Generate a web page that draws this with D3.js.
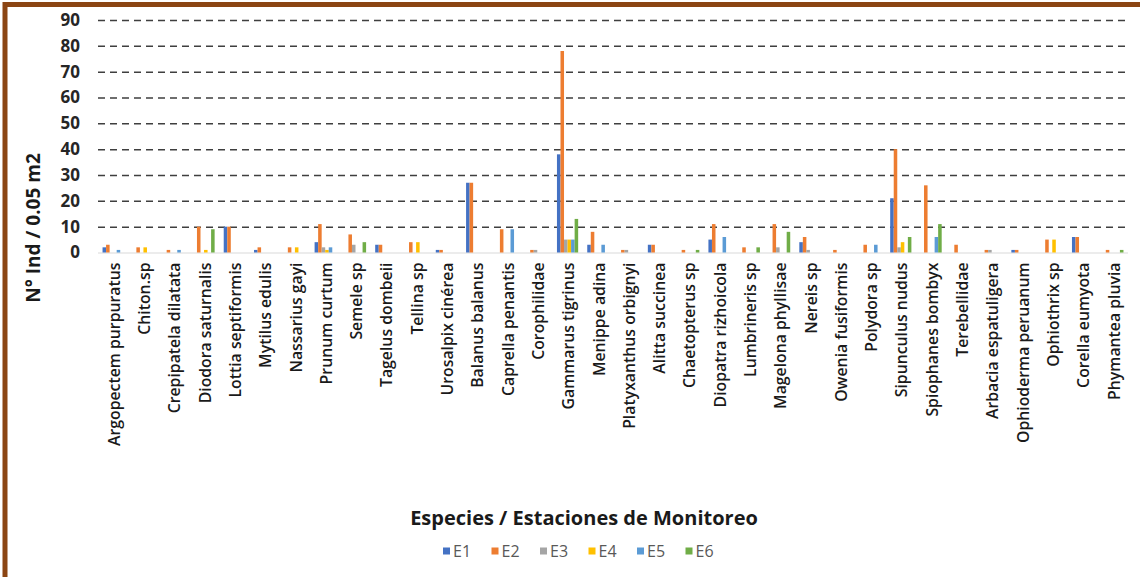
<!DOCTYPE html>
<html>
<head>
<meta charset="utf-8">
<script src="https://cdn.jsdelivr.net/npm/d3@7"></script>
<style>
  html, body { margin: 0; padding: 0; background: #fff; }
  svg { display: block; }
</style>
</head>
<body>
<svg id="chart" width="1140" height="577"></svg>
<script>
// Species sampled at each monitoring station
const categories = [
  "Argopectem purpuratus", "Chiton.sp", "Crepipatela dilatata", "Diodora saturnalis",
  "Lottia septiformis", "Mytilus edulis", "Nassarius gayi", "Prunum curtum",
  "Semele sp", "Tagelus dombeii", "Tellina sp", "Urosalpix cinérea",
  "Balanus balanus", "Caprella penantis", "Corophilidae", "Gammarus tigrinus",
  "Menippe adina", "Platyxanthus orbignyi", "Alitta succinea", "Chaetopterus sp",
  "Diopatra rizhoicola", "Lumbrineris sp", "Magelona phyllisae", "Nereis sp",
  "Owenia fusiformis", "Polydora sp", "Sipunculus nudus", "Spiophanes bombyx",
  "Terebellidae", "Arbacia espatuligera", "Ophioderma peruanum", "Ophiothrix sp",
  "Corella eumyota", "Phymantea pluvia"
];

const seriesNames = ["E1", "E2", "E3", "E4", "E5", "E6"];

// Individuals per 0.05 m2, one value per species, for each station
const E1 = [2, 0, 0, 0, 10, 1, 0, 4, 0, 3, 0, 1, 27, 0, 0, 38, 3, 0, 3, 0, 5, 0, 0, 4, 0, 0, 21, 0, 0, 0, 1, 0, 6, 0];
const E2 = [3, 2, 1, 10, 10, 2, 2, 11, 7, 3, 4, 1, 27, 9, 1, 78, 8, 1, 3, 1, 11, 2, 11, 6, 1, 3, 40, 26, 3, 1, 1, 5, 6, 1];
const E3 = [0, 0, 0, 0, 0, 0, 0, 2, 3, 0, 0, 0, 0, 0, 1, 5, 0, 1, 0, 0, 0, 0, 2, 1, 0, 0, 2, 0, 0, 1, 0, 0, 0, 0];
const E4 = [0, 2, 0, 1, 0, 0, 2, 1, 0, 0, 4, 0, 0, 0, 0, 5, 0, 0, 0, 0, 0, 0, 0, 0, 0, 0, 4, 0, 0, 0, 0, 5, 0, 0];
const E5 = [1, 0, 1, 0, 0, 0, 0, 2, 0, 0, 0, 0, 0, 9, 0, 5, 3, 0, 0, 0, 6, 0, 0, 0, 0, 3, 0, 6, 0, 0, 0, 0, 0, 0];
const E6 = [0, 0, 0, 9, 0, 0, 0, 0, 4, 0, 0, 0, 0, 0, 0, 13, 0, 0, 0, 1, 0, 2, 8, 0, 0, 0, 6, 11, 0, 0, 0, 0, 0, 1];

const seriesValues = [E1, E2, E3, E4, E5, E6];
const seriesColors = ["#4472C4", "#ED7D31", "#A5A5A5", "#FFC000", "#5B9BD5", "#70AD47"];
const yTicks = [0, 10, 20, 30, 40, 50, 60, 70, 80, 90];

const svg = d3.select("#chart");
const plot = { left: 98, right: 1128, top: 20, bottom: 252.5 };
const FONT = "'Open Sans', 'Liberation Sans', sans-serif";

// Frame around the chart
svg.append("path")
  .attr("d", `M5,577 L5,4.5 L1140,4.5`)
  .attr("fill", "none")
  .attr("stroke", "#8B4513")
  .attr("stroke-width", 5);

const x = d3.scaleBand()
  .domain(categories)
  .range([plot.left, plot.right])
  .paddingInner(0)
  .paddingOuter(0);

const bw = x.bandwidth();
const xs = d3.scaleBand()
  .domain(seriesNames)
  .range([bw * 0.15, bw * 0.85]);

const y = d3.scaleLinear()
  .domain([0, 90])
  .range([plot.bottom, plot.top]);

// Dashed gridlines with their value labels
const yAxis = d3.axisLeft(y)
  .tickValues(yTicks)
  .tickSize(-(plot.right - plot.left))
  .tickPadding(18)
  .tickFormat(d3.format("d"));

const gy = svg.append("g")
  .attr("transform", `translate(${plot.left},0)`)
  .call(yAxis);
gy.select(".domain").remove();
gy.selectAll(".tick line")
  .attr("stroke", d => d === 0 ? "#d9d9d9" : "#3f3f3f")
  .attr("stroke-width", d => d === 0 ? 1 : 1.5)
  .attr("stroke-dasharray", d => d === 0 ? null : "7,5");
gy.selectAll(".tick text")
  .attr("fill", "#262626")
  .style("font-family", FONT)
  .style("font-size", "17px")
  .style("font-weight", "700");

// Bars
const groups = svg.append("g").selectAll("g")
  .data(seriesNames)
  .join("g")
  .attr("fill", (d, i) => seriesColors[i]);

groups.each(function (name, si) {
  const vals = seriesValues[si];
  d3.select(this).selectAll("rect")
    .data(categories.map((c, ci) => ({ c, v: vals[ci] })).filter(d => d.v > 0))
    .join("rect")
    .attr("x", d => x(d.c) + xs(name))
    .attr("width", xs.bandwidth())
    .attr("y", d => y(d.v))
    .attr("height", d => y(0) - y(d.v));
});

// Species labels under each group
const xAxis = d3.axisBottom(x).tickSize(0).tickPadding(0);
const gx = svg.append("g")
  .attr("transform", `translate(0,${plot.bottom})`)
  .call(xAxis);
gx.select(".domain").remove();
gx.selectAll(".tick text")
  .attr("transform", "rotate(-90)")
  .attr("x", -10)
  .attr("y", 1)
  .attr("dy", "0.36em")
  .attr("text-anchor", "end")
  .attr("fill", "#1a1a1a")
  .style("font-family", FONT)
  .style("font-size", "15.8px")
  .style("font-weight", "600");

// Axis titles
svg.append("text")
  .attr("transform", `translate(40,228) rotate(-90)`)
  .attr("text-anchor", "middle")
  .attr("fill", "#1a1a1a")
  .style("font-family", FONT)
  .style("font-size", "19px")
  .style("font-weight", "700")
  .text("N° Ind / 0.05 m2");

svg.append("text")
  .attr("x", 584)
  .attr("y", 525)
  .attr("text-anchor", "middle")
  .attr("fill", "#1a1a1a")
  .style("font-family", FONT)
  .style("font-size", "20px")
  .style("font-weight", "700")
  .text("Especies / Estaciones de Monitoreo");

// Legend
const legend = svg.append("g").attr("transform", "translate(443,551)");
const li = legend.selectAll("g")
  .data(seriesNames)
  .join("g")
  .attr("transform", (d, i) => `translate(${i * 48.5},0)`);
li.append("rect")
  .attr("x", 0).attr("y", -3.5)
  .attr("width", 7).attr("height", 7)
  .attr("fill", (d, i) => seriesColors[i]);
li.append("text")
  .attr("x", 10)
  .attr("dy", "0.36em")
  .attr("fill", "#595959")
  .style("font-family", FONT)
  .style("font-size", "16px")
  .text(d => d);
</script>
</body>
</html>
